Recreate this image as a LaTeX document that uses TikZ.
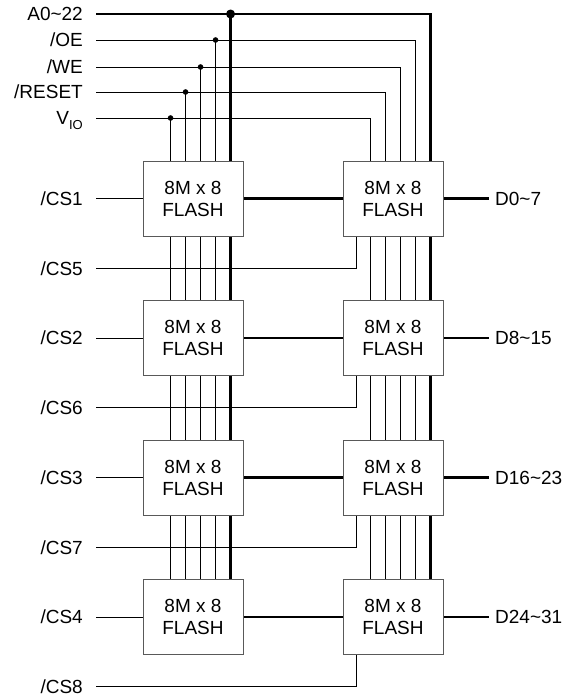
\documentclass[tikz,border=0pt]{standalone}
\usepackage{fontspec}
\setmainfont{Liberation Sans}
\usetikzlibrary{positioning,backgrounds}

\tikzset{
  flash/.style={shape=rectangle,draw=black!65,fill=white,line width=0.9pt,
    minimum width=100pt,minimum height=75pt,align=center,
    font=\fontsize{19}{22}\selectfont},
  sig/.style={anchor=east,inner xsep=13pt,inner ysep=0pt,text height=13.5pt,
    text depth=0pt,font=\fontsize{19}{22}\selectfont},
  dat/.style={sig,anchor=west,inner xsep=6pt},
  wire/.style={line width=0.9pt},
  bus/.style={line width=2.8pt},
}

\begin{document}
\begin{tikzpicture}[x=1pt,y=-1pt]
\useasboundingbox (0,0) rectangle (567,699);
% control lines
\path (96,14) node (sA) [sig] {A0\textasciitilde22};
\path (96,40) node (sOE) [sig] {/OE};
\path (96,67) node (sWE) [sig] {/WE};
\path (96,92) node (sRST) [sig] {/RESET};
\path (96,118) node (sVIO) [sig] {V\raisebox{-4.5pt}{\fontsize{13}{13}\selectfont IO}};

% chips, chip selects and data
\foreach \i/\y/\d in {1/198.5/0\textasciitilde7,2/338/8\textasciitilde15,3/477.5/16\textasciitilde23,4/617/24\textasciitilde31}{
  \pgfmathtruncatemacro{\j}{\i+4}
  \path (193,\y) node (fl\i) [flash] {8M x 8\\FLASH};
  \path (393,\y) node (fr\i) [flash] {8M x 8\\FLASH};
  \path (96,\y) node (cs\i) [sig] {/CS\i};
  \path (96,\y+69.75) node (cs\j) [sig] {/CS\j};
  \path (489,\y) node (d\i) [dat] {D\d};
}

\begin{scope}[on background layer]
\draw[bus] (sA.east) -| ([xshift=88pt]fr4.north west);
\coordinate (bA) at ([xshift=88pt]fl4.north west);
\draw[bus] (bA |- sA.east) -- (bA);
\fill (bA |- sA.east) circle (4.5pt);
\foreach \s/\dx in {OE/73,WE/58,RST/43,VIO/28}{
  \draw[wire] (s\s.east) -| ([xshift=\dx pt]fr4.north west);
  \coordinate (b\s) at ([xshift=\dx pt]fl4.north west);
  \draw[wire] (b\s |- s\s.east) -- (b\s);
  \fill (b\s |- s\s.east) circle (2.8pt);
}
\foreach \i in {1,...,4}{
  \pgfmathtruncatemacro{\j}{\i+4}
  \draw[wire] (cs\i.east) -- (fl\i.west);
  \draw[bus] (fl\i.east) -- (fr\i.west);
  \draw[bus] (fr\i.east) -- (d\i.west);
  \draw[wire] (cs\j.east) -| ([xshift=14pt]fr\i.south west);
}
\end{scope}
\end{tikzpicture}
\end{document}
